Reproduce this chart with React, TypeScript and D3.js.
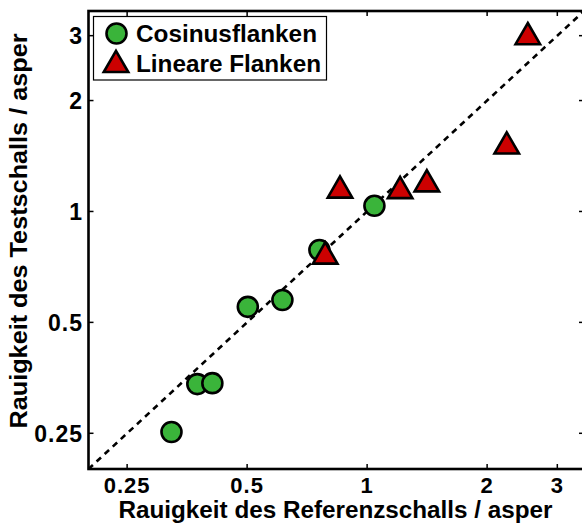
import { useEffect, useRef } from "react";
import * as d3 from "d3";

// ── Data ──────────────────────────────────────────────────────────────────────
const cosRef  = [0.323, 0.375, 0.409, 0.502, 0.613, 0.759, 1.043];
const cosTest = [0.252, 0.340, 0.342, 0.551, 0.575, 0.786, 1.036];

const linRef  = [0.855, 1.21, 1.412, 0.785, 2.53, 2.24];
const linTest = [1.154, 1.15, 1.200, 0.764, 3.01, 1.52];

const tickVals   = [0.25, 0.5, 1, 2, 3];
const tickLabels = ["0.25", "0.5", "1", "2", "3"];
const domain: [number, number] = [0.2, 3.5];

const legendLabels = ["Cosinusflanken", "Lineare Flanken"];

// ── Layout ───────────────────────────────────────────────────────────────────
const W = 582;
const H = 525;
const X0 = 88.5, X1 = 584;
const Y0 = 469,  Y1 = 11;

const GREEN = "#3ab43a";
const RED   = "#cc0000";
const FONT  = "'Liberation Sans', Arial, Helvetica, sans-serif";

export default function App() {
  const svgRef = useRef<SVGSVGElement>(null);

  useEffect(() => {
    if (!svgRef.current) return;
    const svg = d3.select(svgRef.current);
    svg.selectAll("*").remove();

    const x = d3.scaleLog().domain(domain).range([X0, X1]);
    const y = d3.scaleLog().domain(domain).range([Y0, Y1]);

    svg.append("rect").attr("width", W).attr("height", H).attr("fill", "#fff");

    // identity line
    svg.append("line")
      .attr("x1", x(domain[0])).attr("y1", y(domain[0]))
      .attr("x2", x(domain[1])).attr("y2", y(domain[1]))
      .attr("stroke", "#000").attr("stroke-width", 2.6)
      .attr("stroke-dasharray", "6,5");

    // ── markers ───────────────────────────────────────────────────────────────
    const tri = d3.symbol().type(d3.symbolTriangle).size(260);

    svg.selectAll("circle.cos")
      .data(d3.range(cosRef.length))
      .join("circle")
      .attr("class", "cos")
      .attr("cx", i => x(cosRef[i]))
      .attr("cy", i => y(cosTest[i]))
      .attr("r", 10)
      .attr("fill", GREEN).attr("stroke", "#000").attr("stroke-width", 2.6);

    svg.selectAll("path.lin")
      .data(d3.range(linRef.length))
      .join("path")
      .attr("class", "lin")
      .attr("d", tri)
      .attr("transform", i => `translate(${x(linRef[i])},${y(linTest[i]) + 2})`)
      .attr("fill", RED).attr("stroke", "#000").attr("stroke-width", 2.6)
      .attr("stroke-linejoin", "miter");

    // ── box + ticks (inward, all four sides) ──────────────────────────────────
    const frame = svg.append("g").attr("stroke", "#000").attr("stroke-width", 2.6);
    frame.append("rect")
      .attr("x", X0).attr("y", Y1)
      .attr("width", X1 - X0).attr("height", Y0 - Y1)
      .attr("fill", "none");

    const TL = 5;
    for (const v of tickVals) {
      frame.append("line").attr("x1", x(v)).attr("x2", x(v)).attr("y1", Y0).attr("y2", Y0 - TL).attr("stroke-width", 1.5);
      frame.append("line").attr("x1", x(v)).attr("x2", x(v)).attr("y1", Y1).attr("y2", Y1 + TL).attr("stroke-width", 1.5);
      frame.append("line").attr("y1", y(v)).attr("y2", y(v)).attr("x1", X0).attr("x2", X0 + TL).attr("stroke-width", 1.5);
      frame.append("line").attr("y1", y(v)).attr("y2", y(v)).attr("x1", X1).attr("x2", X1 - TL).attr("stroke-width", 1.5);
    }

    const txt = svg.append("g")
      .attr("font-family", FONT).attr("font-weight", "bold").attr("fill", "#000");

    tickVals.forEach((v, i) => {
      txt.append("text")
        .attr("x", x(v)).attr("y", 493)
        .attr("text-anchor", "middle").attr("font-size", 22)
        .attr("letter-spacing", 1)
        .text(tickLabels[i]);
      txt.append("text")
        .attr("x", 83).attr("y", y(v)).attr("dy", "0.36em")
        .attr("text-anchor", "end").attr("font-size", 23)
        .attr("letter-spacing", 1)
        .text(tickLabels[i]);
    });

    // axis titles
    txt.append("text")
      .attr("x", 335.5).attr("y", 518)
      .attr("text-anchor", "middle").attr("font-size", 23)
      .attr("textLength", 434).attr("lengthAdjust", "spacingAndGlyphs")
      .text("Rauigkeit des Referenzschalls / asper");

    txt.append("text")
      .attr("transform", `translate(27,231) rotate(-90)`)
      .attr("text-anchor", "middle").attr("font-size", 23)
      .attr("textLength", 395).attr("lengthAdjust", "spacingAndGlyphs")
      .text("Rauigkeit des Testschalls / asper");

    // ── legend ────────────────────────────────────────────────────────────────
    const lg = svg.append("g");
    lg.append("rect")
      .attr("x", 93.5).attr("y", 16.5).attr("width", 233).attr("height", 63.5)
      .attr("fill", "#fff").attr("stroke", "#000").attr("stroke-width", 1.2);
    lg.append("circle")
      .attr("cx", 116.5).attr("cy", 33.5).attr("r", 10)
      .attr("fill", GREEN).attr("stroke", "#000").attr("stroke-width", 2.6);
    lg.append("path")
      .attr("d", tri)
      .attr("transform", "translate(116,65)")
      .attr("fill", RED).attr("stroke", "#000").attr("stroke-width", 2.6);

    const lens = [181, 185];
    legendLabels.forEach((s, i) => {
      lg.append("text")
        .attr("x", 136).attr("y", 42 + i * 30)
        .attr("font-family", FONT).attr("font-weight", "bold").attr("font-size", 23)
        .attr("textLength", lens[i]).attr("lengthAdjust", "spacingAndGlyphs")
        .text(s);
    });
  }, []);

  return (
    <div style={{ position: "absolute", left: 0, top: 0, width: W, height: H }}>
      <svg ref={svgRef} width={W} height={H} style={{ display: "block" }} />
    </div>
  );
}
